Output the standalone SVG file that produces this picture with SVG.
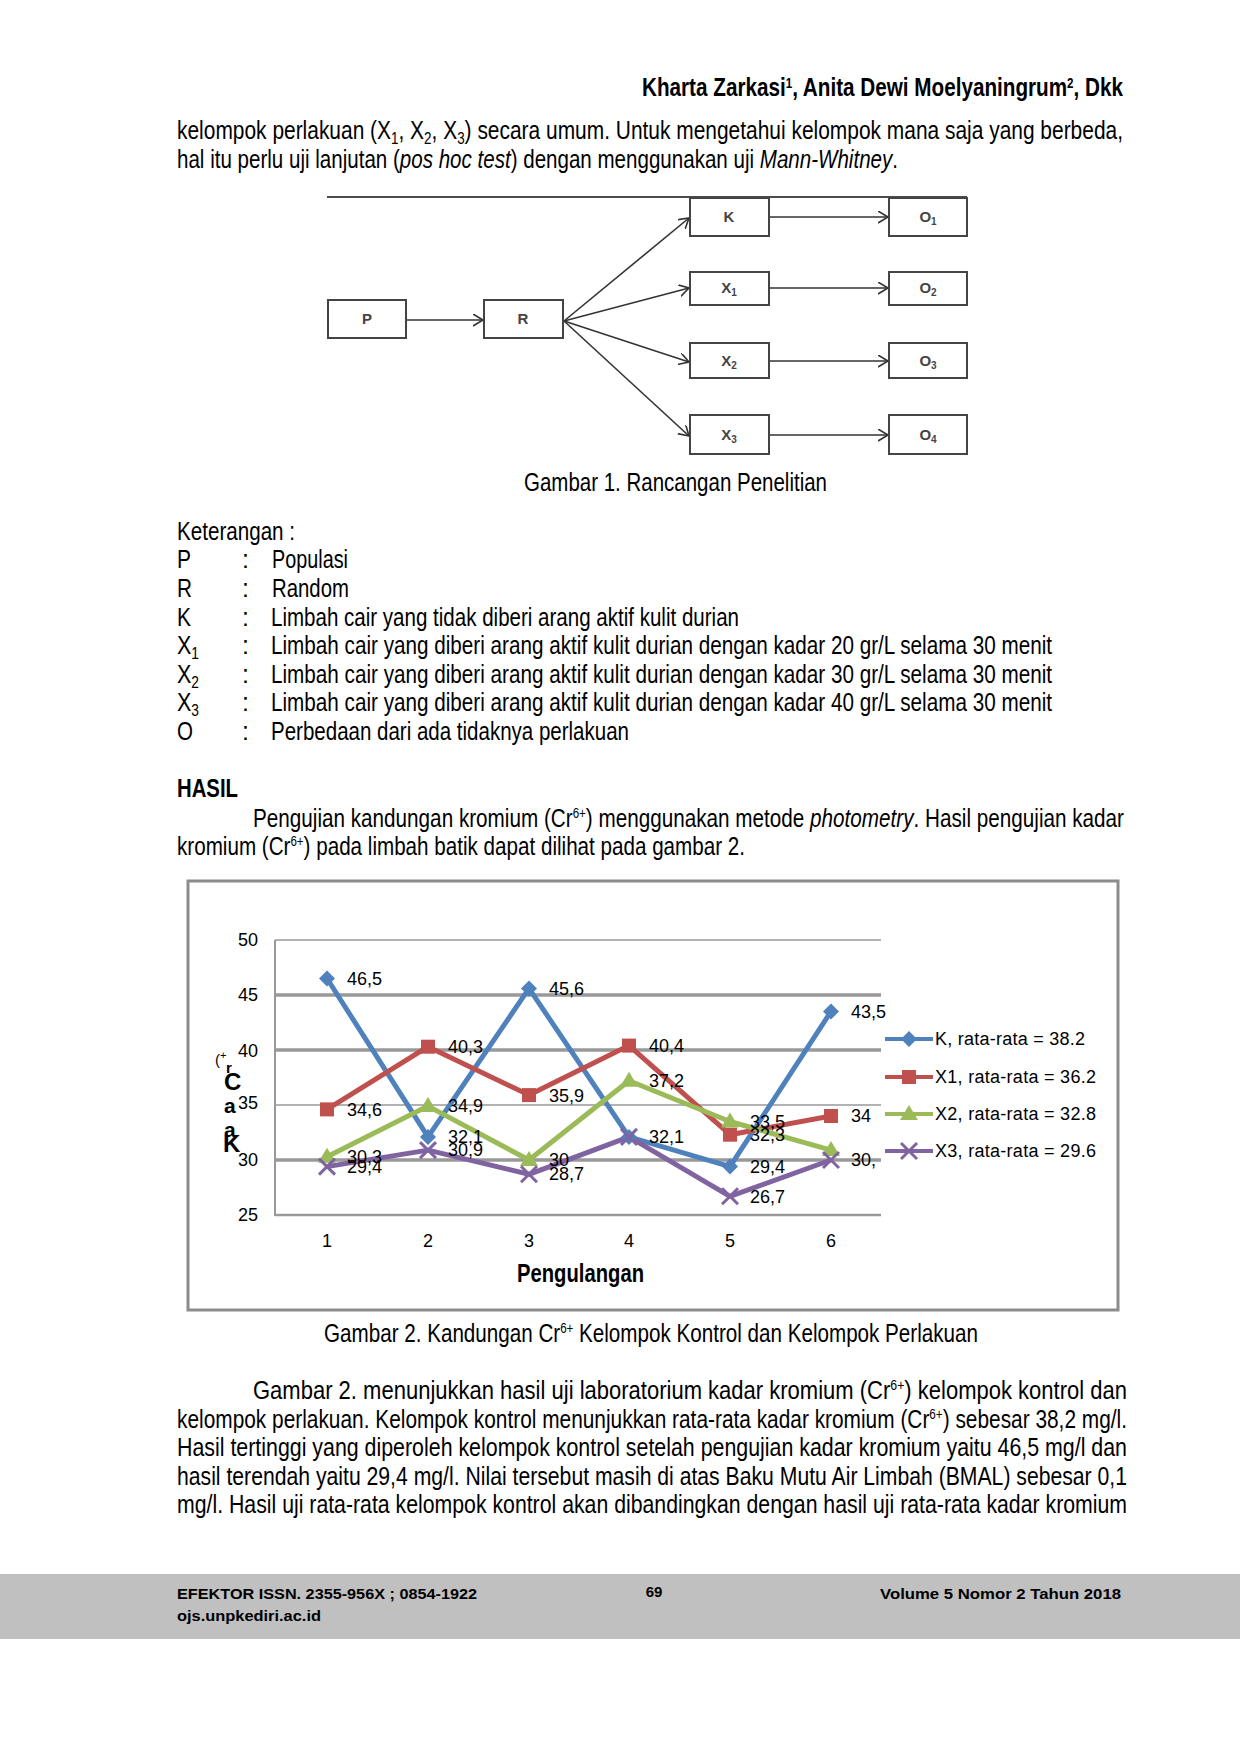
<svg xmlns="http://www.w3.org/2000/svg" width="1240" height="1754" viewBox="0 0 1240 1754">
<style>
.t{font-family:'Liberation Sans Narrow','Arial Narrow','Liberation Sans',sans-serif;font-size:25px;fill:#000}
.bd{font-weight:bold}
.it{font-style:italic}
.sub{font-size:16px}
.sup{font-size:14px}
.box{fill:#fff;stroke:#444;stroke-width:2}
.bl{font-family:'Liberation Sans',sans-serif;font-size:15px;font-weight:bold;fill:#444;text-anchor:middle}
.bls{font-size:10px}
.con{stroke:#333;stroke-width:1.6;fill:none}
.c{font-family:'Liberation Sans',sans-serif;font-size:18px;fill:#000}
.grid{stroke:#999;fill:none}
.f{font-family:'Liberation Sans',sans-serif;font-size:15px;font-weight:bold;fill:#000}
</style>
<defs>
<marker id="ah" markerUnits="userSpaceOnUse" markerWidth="14" markerHeight="14" refX="10" refY="6" orient="auto">
<path d="M0,0 L10,6 L0,12" fill="none" stroke="#333" stroke-width="1.6"/>
</marker>
<polygon id="mk" points="0,-8 8,0 0,8 -8,0" fill="#4F81BD"/>
<rect id="mx1" x="-7" y="-7" width="14" height="14" fill="#C0504D"/>
<polygon id="mx2" points="0,-9 9,6 -9,6" fill="#9BBB59"/>
<g id="mx3" stroke="#8064A2" stroke-width="3"><line x1="-8" y1="-8" x2="8" y2="8"/><line x1="-8" y1="8" x2="8" y2="-8"/></g>
</defs>
<rect width="1240" height="1754" fill="#fff"/>

<!-- header -->
<text class="t bd" x="642" y="96" textLength="481" lengthAdjust="spacingAndGlyphs">Kharta Zarkasi<tspan class="sup" dy="-8">1</tspan><tspan dy="8">, Anita Dewi Moelyaningrum</tspan><tspan class="sup" dy="-8">2</tspan><tspan dy="8">, Dkk</tspan></text>

<text class="t" x="177" y="139" textLength="946" lengthAdjust="spacingAndGlyphs">kelompok perlakuan (X<tspan class="sub" dy="5">1</tspan><tspan dy="-5">, X</tspan><tspan class="sub" dy="5">2</tspan><tspan dy="-5">, X</tspan><tspan class="sub" dy="5">3</tspan><tspan dy="-5">) secara umum. Untuk mengetahui kelompok mana saja yang berbeda,</tspan></text>
<text class="t" x="177" y="168" textLength="721" lengthAdjust="spacingAndGlyphs">hal itu perlu uji lanjutan (<tspan class="it">pos hoc test</tspan>) dengan menggunakan uji <tspan class="it">Mann-Whitney</tspan>.</text>

<!-- figure 1 -->
<line x1="327" y1="197" x2="967" y2="197" stroke="#111" stroke-width="1.5"/>
<g id="connectors">
<line class="con" x1="406" y1="320" x2="483" y2="320" marker-end="url(#ah)"/>
<line class="con" x1="564" y1="321" x2="689" y2="218" marker-end="url(#ah)"/>
<line class="con" x1="564" y1="321" x2="689" y2="288" marker-end="url(#ah)"/>
<line class="con" x1="564" y1="321" x2="689" y2="362" marker-end="url(#ah)"/>
<line class="con" x1="564" y1="321" x2="689" y2="436" marker-end="url(#ah)"/>
<line class="con" x1="769" y1="217" x2="888" y2="217" marker-end="url(#ah)"/>
<line class="con" x1="769" y1="288" x2="888" y2="288" marker-end="url(#ah)"/>
<line class="con" x1="769" y1="361" x2="888" y2="361" marker-end="url(#ah)"/>
<line class="con" x1="769" y1="435" x2="888" y2="435" marker-end="url(#ah)"/>
</g>
<g id="nP"><rect class="box" x="328" y="300" width="78" height="38"/><text class="bl" x="367" y="324">P</text></g>
<g id="nR"><rect class="box" x="484" y="300" width="79" height="38"/><text class="bl" x="523" y="324">R</text></g>
<g id="nK"><rect class="box" x="690" y="198" width="79" height="38"/><text class="bl" x="729" y="222">K</text></g>
<g id="nO1"><rect class="box" x="889" y="198" width="78" height="38"/><text class="bl" x="928" y="222">O<tspan class="bls" dy="3">1</tspan></text></g>
<g id="nX1"><rect class="box" x="690" y="272" width="79" height="33"/><text class="bl" x="729" y="293">X<tspan class="bls" dy="3">1</tspan></text></g>
<g id="nO2"><rect class="box" x="889" y="272" width="78" height="33"/><text class="bl" x="928" y="293">O<tspan class="bls" dy="3">2</tspan></text></g>
<g id="nX2"><rect class="box" x="690" y="343" width="79" height="35"/><text class="bl" x="729" y="366">X<tspan class="bls" dy="3">2</tspan></text></g>
<g id="nO3"><rect class="box" x="889" y="343" width="78" height="35"/><text class="bl" x="928" y="366">O<tspan class="bls" dy="3">3</tspan></text></g>
<g id="nX3"><rect class="box" x="690" y="415" width="79" height="39"/><text class="bl" x="729" y="440">X<tspan class="bls" dy="3">3</tspan></text></g>
<g id="nO4"><rect class="box" x="889" y="415" width="78" height="39"/><text class="bl" x="928" y="440">O<tspan class="bls" dy="3">4</tspan></text></g>

<text class="t" x="524" y="491" textLength="303" lengthAdjust="spacingAndGlyphs">Gambar 1. Rancangan Penelitian</text>

<!-- keterangan -->
<text class="t" x="177" y="540" textLength="118" lengthAdjust="spacingAndGlyphs">Keterangan :</text>
<text class="t" x="177" y="568" textLength="14" lengthAdjust="spacingAndGlyphs">P</text><text class="t" x="242" y="568">:</text><text class="t" x="272" y="568" textLength="76" lengthAdjust="spacingAndGlyphs">Populasi</text>
<text class="t" x="177" y="597" textLength="15" lengthAdjust="spacingAndGlyphs">R</text><text class="t" x="242" y="597">:</text><text class="t" x="272" y="597" textLength="77" lengthAdjust="spacingAndGlyphs">Random</text>
<text class="t" x="177" y="626" textLength="14" lengthAdjust="spacingAndGlyphs">K</text><text class="t" x="242" y="626">:</text><text class="t" x="271" y="626" textLength="468" lengthAdjust="spacingAndGlyphs">Limbah cair yang tidak diberi arang aktif kulit durian</text>
<text class="t" x="177" y="654" textLength="22" lengthAdjust="spacingAndGlyphs">X<tspan class="sub" dy="5">1</tspan></text><text class="t" x="242" y="654">:</text><text class="t" x="271" y="654" textLength="781" lengthAdjust="spacingAndGlyphs">Limbah cair yang diberi arang aktif kulit durian dengan kadar 20 gr/L selama 30 menit</text>
<text class="t" x="177" y="683" textLength="22" lengthAdjust="spacingAndGlyphs">X<tspan class="sub" dy="5">2</tspan></text><text class="t" x="242" y="683">:</text><text class="t" x="271" y="683" textLength="781" lengthAdjust="spacingAndGlyphs">Limbah cair yang diberi arang aktif kulit durian dengan kadar 30 gr/L selama 30 menit</text>
<text class="t" x="177" y="711" textLength="22" lengthAdjust="spacingAndGlyphs">X<tspan class="sub" dy="5">3</tspan></text><text class="t" x="242" y="711">:</text><text class="t" x="271" y="711" textLength="781" lengthAdjust="spacingAndGlyphs">Limbah cair yang diberi arang aktif kulit durian dengan kadar 40 gr/L selama 30 menit</text>
<text class="t" x="177" y="740" textLength="16" lengthAdjust="spacingAndGlyphs">O</text><text class="t" x="242" y="740">:</text><text class="t" x="271" y="740" textLength="358" lengthAdjust="spacingAndGlyphs">Perbedaan dari ada tidaknya perlakuan</text>

<text class="t bd" x="177" y="797" textLength="61" lengthAdjust="spacingAndGlyphs">HASIL</text>
<text class="t" x="253" y="827" textLength="871" lengthAdjust="spacingAndGlyphs">Pengujian kandungan kromium (Cr<tspan class="sup" dy="-9">6+</tspan><tspan dy="9">) menggunakan metode </tspan><tspan class="it">photometry</tspan>. Hasil pengujian kadar</text>
<text class="t" x="177" y="855" textLength="568" lengthAdjust="spacingAndGlyphs">kromium (Cr<tspan class="sup" dy="-9">6+</tspan><tspan dy="9">) pada limbah batik dapat dilihat pada gambar 2.</tspan></text>

<!-- chart -->
<rect x="188" y="881" width="930" height="429" fill="#fff" stroke="#8c8c8c" stroke-width="3"/>
<line class="grid" x1="275" y1="940" x2="881" y2="940" stroke-width="1.5"/>
<line class="grid" x1="275" y1="995" x2="881" y2="995" stroke-width="3.5"/>
<line class="grid" x1="275" y1="1050" x2="881" y2="1050" stroke-width="3.5"/>
<line class="grid" x1="275" y1="1105" x2="881" y2="1105" stroke-width="1.5"/>
<line class="grid" x1="275" y1="1160" x2="881" y2="1160" stroke-width="3.5"/>
<line class="grid" x1="275" y1="1215" x2="881" y2="1215" stroke-width="2.5"/>
<line class="grid" x1="275" y1="940" x2="275" y2="1216" stroke-width="2"/>
<g class="c" text-anchor="end">
<text x="258" y="946">50</text><text x="258" y="1001">45</text><text x="258" y="1057">40</text><text x="258" y="1109">35</text><text x="258" y="1166">30</text><text x="258" y="1221">25</text>
</g>
<g class="c" text-anchor="middle">
<text x="327" y="1247">1</text><text x="428" y="1247">2</text><text x="529" y="1247">3</text><text x="629" y="1247">4</text><text x="730" y="1247">5</text><text x="831" y="1247">6</text>
</g>
<text class="t bd" x="517" y="1282" textLength="127" lengthAdjust="spacingAndGlyphs">Pengulangan</text>
<g font-family="'Liberation Sans',sans-serif" font-weight="bold" fill="#000">
<text x="215" y="1065" font-size="15" font-weight="normal">(<tspan font-size="11" dy="-6">+</tspan></text>
<text x="226" y="1073" font-size="15">r</text>
<text x="224" y="1090" font-size="24">C</text>
<text x="224" y="1113" font-size="21">a</text>
<text x="224" y="1137" font-size="21">a</text>
<text x="223" y="1152" font-size="24">K</text>
</g>

<g id="series" fill="none" stroke-width="5" stroke-linejoin="round">
<polyline points="327,978.5 428,1136.9 529,988.4 629,1136.9 730,1166.6 831,1011.5" stroke="#4F81BD"/>
<polyline points="327,1109.4 428,1046.7 529,1095.1 629,1045.6 730,1134.7 831,1116" stroke="#C0504D"/>
<polyline points="327,1156.7 428,1106.1 529,1160 629,1080.8 730,1121.5 831,1150.1" stroke="#9BBB59"/>
<polyline points="327,1166.6 428,1150.1 529,1174.3 629,1136.9 730,1196.3 831,1160" stroke="#8064A2"/>
</g>
<g id="markers">
<use href="#mk" x="327" y="978.5"/><use href="#mk" x="428" y="1136.9"/><use href="#mk" x="529" y="988.4"/><use href="#mk" x="629" y="1136.9"/><use href="#mk" x="730" y="1166.6"/><use href="#mk" x="831" y="1011.5"/>
<use href="#mx1" x="327" y="1109.4"/><use href="#mx1" x="428" y="1046.7"/><use href="#mx1" x="529" y="1095.1"/><use href="#mx1" x="629" y="1045.6"/><use href="#mx1" x="730" y="1134.7"/><use href="#mx1" x="831" y="1116"/>
<use href="#mx2" x="327" y="1156.7"/><use href="#mx2" x="428" y="1106.1"/><use href="#mx2" x="529" y="1160"/><use href="#mx2" x="629" y="1080.8"/><use href="#mx2" x="730" y="1121.5"/><use href="#mx2" x="831" y="1150.1"/>
<use href="#mx3" x="327" y="1166.6"/><use href="#mx3" x="428" y="1150.1"/><use href="#mx3" x="529" y="1174.3"/><use href="#mx3" x="629" y="1136.9"/><use href="#mx3" x="730" y="1196.3"/><use href="#mx3" x="831" y="1160"/>
</g>
<g class="c" id="datalabels">
<text x="347" y="985">46,5</text><text x="448" y="1143">32,1</text><text x="549" y="995">45,6</text><text x="649" y="1143">32,1</text><text x="750" y="1173">29,4</text><text x="851" y="1018">43,5</text>
<text x="347" y="1116">34,6</text><text x="448" y="1053">40,3</text><text x="549" y="1102">35,9</text><text x="649" y="1052">40,4</text><text x="750" y="1141">32,3</text><text x="851" y="1122">34</text>
<text x="347" y="1163">30,3</text><text x="448" y="1112">34,9</text><text x="549" y="1166">30</text><text x="649" y="1087">37,2</text><text x="750" y="1128">33,5</text>
<text x="347" y="1173">29,4</text><text x="448" y="1156">30,9</text><text x="549" y="1180">28,7</text><text x="750" y="1203">26,7</text><text x="851" y="1166">30,</text>
</g>
<g id="legend">
<line x1="885" y1="1039" x2="933" y2="1039" stroke="#4F81BD" stroke-width="4"/><use href="#mk" x="909" y="1039"/>
<line x1="885" y1="1077" x2="933" y2="1077" stroke="#C0504D" stroke-width="4"/><use href="#mx1" x="909" y="1077"/>
<line x1="885" y1="1114" x2="933" y2="1114" stroke="#9BBB59" stroke-width="4"/><use href="#mx2" x="909" y="1114"/>
<line x1="885" y1="1151" x2="933" y2="1151" stroke="#8064A2" stroke-width="4"/><use href="#mx3" x="909" y="1151"/>
<text class="c" x="935" y="1045" textLength="150">K, rata-rata = 38.2</text>
<text class="c" x="935" y="1083" textLength="161">X1, rata-rata = 36.2</text>
<text class="c" x="935" y="1120" textLength="161">X2, rata-rata = 32.8</text>
<text class="c" x="935" y="1157" textLength="161">X3, rata-rata = 29.6</text>
</g>

<text class="t" x="324" y="1342" textLength="654" lengthAdjust="spacingAndGlyphs">Gambar 2. Kandungan Cr<tspan class="sup" dy="-9">6+</tspan><tspan dy="9"> Kelompok Kontrol dan Kelompok Perlakuan</tspan></text>

<text class="t" x="253" y="1399" textLength="874" lengthAdjust="spacingAndGlyphs">Gambar 2. menunjukkan hasil uji laboratorium kadar kromium (Cr<tspan class="sup" dy="-9">6+</tspan><tspan dy="9">) kelompok kontrol dan</tspan></text>
<text class="t" x="177" y="1428" textLength="950" lengthAdjust="spacingAndGlyphs">kelompok perlakuan. Kelompok kontrol menunjukkan rata-rata kadar kromium (Cr<tspan class="sup" dy="-9">6+</tspan><tspan dy="9">) sebesar 38,2 mg/l.</tspan></text>
<text class="t" x="177" y="1456" textLength="950" lengthAdjust="spacingAndGlyphs">Hasil tertinggi yang diperoleh kelompok kontrol setelah pengujian kadar kromium yaitu 46,5 mg/l dan</text>
<text class="t" x="177" y="1485" textLength="950" lengthAdjust="spacingAndGlyphs">hasil terendah yaitu 29,4 mg/l. Nilai tersebut masih di atas Baku Mutu Air Limbah (BMAL) sebesar 0,1</text>
<text class="t" x="177" y="1513" textLength="950" lengthAdjust="spacingAndGlyphs">mg/l. Hasil uji rata-rata kelompok kontrol akan dibandingkan dengan hasil uji rata-rata kadar kromium</text>

<!-- footer -->
<rect x="0" y="1574" width="1240" height="65" fill="#c0c0c0"/>
<text class="f" x="177" y="1599" textLength="300" lengthAdjust="spacingAndGlyphs">EFEKTOR ISSN. 2355-956X ; 0854-1922</text>
<text class="f" x="177" y="1621" textLength="144" lengthAdjust="spacingAndGlyphs">ojs.unpkediri.ac.id</text>
<text class="f" x="654" y="1597" text-anchor="middle" font-weight="normal">69</text>
<text class="f" x="880" y="1599" textLength="241" lengthAdjust="spacingAndGlyphs">Volume 5 Nomor 2 Tahun 2018</text>
</svg>
